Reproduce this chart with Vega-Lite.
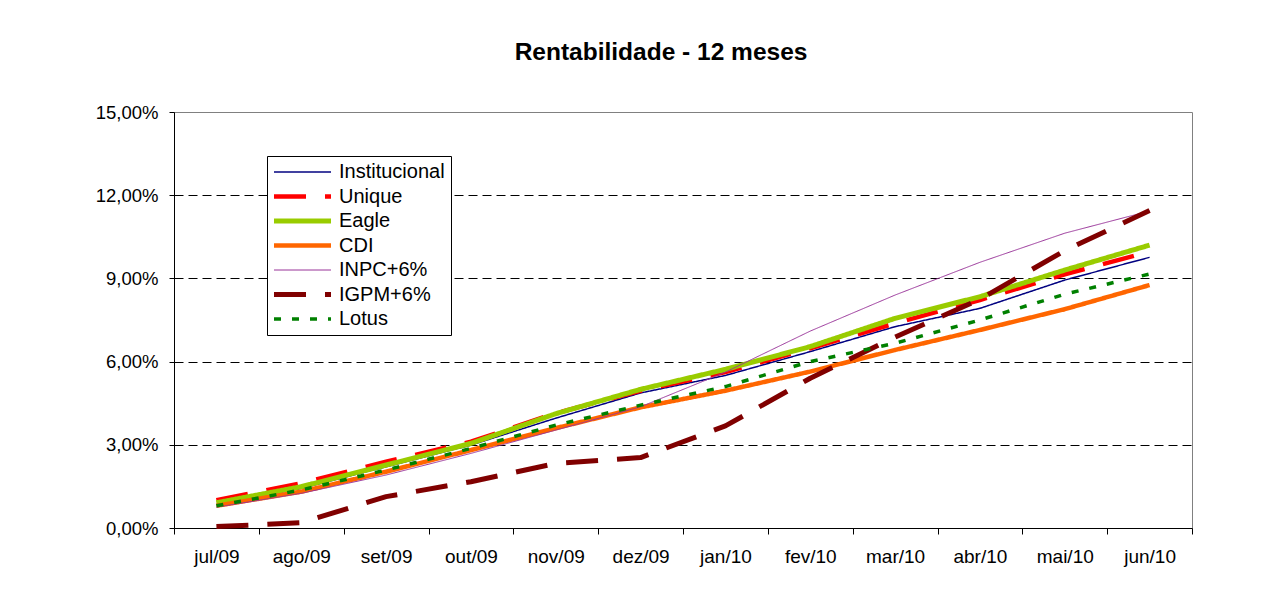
{
  "$schema": "https://vega.github.io/schema/vega-lite/v6.json",
  "width": 1018,
  "height": 416,
  "autosize": {"type": "none"},
  "padding": {"left": 174, "top": 112, "right": 83, "bottom": 86},
  "background": "white",
  "title": {"text": "Rentabilidade - 12 meses", "font": "Liberation Sans", "fontSize": 24.5, "fontWeight": "bold", "color": "black", "anchor": "middle", "frame": "group", "dx": -22, "offset": 38},
  "config": {
    "view": {"stroke": "#808080", "strokeWidth": 1},
    "font": "Liberation Sans"
  },
  "data": {"values": [
    {"mes": "jul/09", "serie": "Institucional", "valor": 0.85},
    {"mes": "ago/09", "serie": "Institucional", "valor": 1.43},
    {"mes": "set/09", "serie": "Institucional", "valor": 2.21},
    {"mes": "out/09", "serie": "Institucional", "valor": 2.99},
    {"mes": "nov/09", "serie": "Institucional", "valor": 3.96},
    {"mes": "dez/09", "serie": "Institucional", "valor": 4.87},
    {"mes": "jan/10", "serie": "Institucional", "valor": 5.5},
    {"mes": "fev/10", "serie": "Institucional", "valor": 6.36},
    {"mes": "mar/10", "serie": "Institucional", "valor": 7.26},
    {"mes": "abr/10", "serie": "Institucional", "valor": 7.92},
    {"mes": "mai/10", "serie": "Institucional", "valor": 8.94},
    {"mes": "jun/10", "serie": "Institucional", "valor": 9.76},
    {"mes": "jul/09", "serie": "Unique", "valor": 1.0},
    {"mes": "ago/09", "serie": "Unique", "valor": 1.61},
    {"mes": "set/09", "serie": "Unique", "valor": 2.39},
    {"mes": "out/09", "serie": "Unique", "valor": 3.11},
    {"mes": "nov/09", "serie": "Unique", "valor": 4.14},
    {"mes": "dez/09", "serie": "Unique", "valor": 4.95},
    {"mes": "jan/10", "serie": "Unique", "valor": 5.62},
    {"mes": "fev/10", "serie": "Unique", "valor": 6.48},
    {"mes": "mar/10", "serie": "Unique", "valor": 7.38},
    {"mes": "abr/10", "serie": "Unique", "valor": 8.22},
    {"mes": "mai/10", "serie": "Unique", "valor": 9.15},
    {"mes": "jun/10", "serie": "Unique", "valor": 9.96},
    {"mes": "jul/09", "serie": "Eagle", "valor": 0.91},
    {"mes": "ago/09", "serie": "Eagle", "valor": 1.49},
    {"mes": "set/09", "serie": "Eagle", "valor": 2.27},
    {"mes": "out/09", "serie": "Eagle", "valor": 3.05},
    {"mes": "nov/09", "serie": "Eagle", "valor": 4.12},
    {"mes": "dez/09", "serie": "Eagle", "valor": 5.0},
    {"mes": "jan/10", "serie": "Eagle", "valor": 5.72},
    {"mes": "fev/10", "serie": "Eagle", "valor": 6.54},
    {"mes": "mar/10", "serie": "Eagle", "valor": 7.56},
    {"mes": "abr/10", "serie": "Eagle", "valor": 8.34},
    {"mes": "mai/10", "serie": "Eagle", "valor": 9.3},
    {"mes": "jun/10", "serie": "Eagle", "valor": 10.2},
    {"mes": "jul/09", "serie": "CDI", "valor": 0.8},
    {"mes": "ago/09", "serie": "CDI", "valor": 1.31},
    {"mes": "set/09", "serie": "CDI", "valor": 2.03},
    {"mes": "out/09", "serie": "CDI", "valor": 2.81},
    {"mes": "nov/09", "serie": "CDI", "valor": 3.6},
    {"mes": "dez/09", "serie": "CDI", "valor": 4.35},
    {"mes": "jan/10", "serie": "CDI", "valor": 4.95},
    {"mes": "fev/10", "serie": "CDI", "valor": 5.64},
    {"mes": "mar/10", "serie": "CDI", "valor": 6.42},
    {"mes": "abr/10", "serie": "CDI", "valor": 7.14},
    {"mes": "mai/10", "serie": "CDI", "valor": 7.89},
    {"mes": "jun/10", "serie": "CDI", "valor": 8.76},
    {"mes": "jul/09", "serie": "INPC+6%", "valor": 0.75},
    {"mes": "ago/09", "serie": "INPC+6%", "valor": 1.25},
    {"mes": "set/09", "serie": "INPC+6%", "valor": 1.91},
    {"mes": "out/09", "serie": "INPC+6%", "valor": 2.69},
    {"mes": "nov/09", "serie": "INPC+6%", "valor": 3.53},
    {"mes": "dez/09", "serie": "INPC+6%", "valor": 4.37},
    {"mes": "jan/10", "serie": "INPC+6%", "valor": 5.62},
    {"mes": "fev/10", "serie": "INPC+6%", "valor": 7.1},
    {"mes": "mar/10", "serie": "INPC+6%", "valor": 8.4},
    {"mes": "abr/10", "serie": "INPC+6%", "valor": 9.58},
    {"mes": "mai/10", "serie": "INPC+6%", "valor": 10.63},
    {"mes": "jun/10", "serie": "INPC+6%", "valor": 11.43},
    {"mes": "jul/09", "serie": "IGPM+6%", "valor": 0.05},
    {"mes": "ago/09", "serie": "IGPM+6%", "valor": 0.19},
    {"mes": "set/09", "serie": "IGPM+6%", "valor": 1.13},
    {"mes": "out/09", "serie": "IGPM+6%", "valor": 1.67},
    {"mes": "nov/09", "serie": "IGPM+6%", "valor": 2.33},
    {"mes": "dez/09", "serie": "IGPM+6%", "valor": 2.54},
    {"mes": "jan/10", "serie": "IGPM+6%", "valor": 3.68},
    {"mes": "fev/10", "serie": "IGPM+6%", "valor": 5.4},
    {"mes": "mar/10", "serie": "IGPM+6%", "valor": 6.88},
    {"mes": "abr/10", "serie": "IGPM+6%", "valor": 8.25},
    {"mes": "mai/10", "serie": "IGPM+6%", "valor": 10.0},
    {"mes": "jun/10", "serie": "IGPM+6%", "valor": 11.45},
    {"mes": "jul/09", "serie": "Lotus", "valor": 0.8},
    {"mes": "ago/09", "serie": "Lotus", "valor": 1.37},
    {"mes": "set/09", "serie": "Lotus", "valor": 2.09},
    {"mes": "out/09", "serie": "Lotus", "valor": 2.87},
    {"mes": "nov/09", "serie": "Lotus", "valor": 3.71},
    {"mes": "dez/09", "serie": "Lotus", "valor": 4.43},
    {"mes": "jan/10", "serie": "Lotus", "valor": 5.1},
    {"mes": "fev/10", "serie": "Lotus", "valor": 6.0},
    {"mes": "mar/10", "serie": "Lotus", "valor": 6.66},
    {"mes": "abr/10", "serie": "Lotus", "valor": 7.5},
    {"mes": "mai/10", "serie": "Lotus", "valor": 8.43},
    {"mes": "jun/10", "serie": "Lotus", "valor": 9.16}
  ]},
  "mark": {"type": "line", "strokeCap": "butt", "strokeJoin": "round"},
  "encoding": {
    "x": {
      "field": "mes", "type": "ordinal", "bandPosition": 0.5,
      "sort": ["jul/09", "ago/09", "set/09", "out/09", "nov/09", "dez/09", "jan/10", "fev/10", "mar/10", "abr/10", "mai/10", "jun/10"],
      "scale": {"type": "band", "paddingInner": 0, "paddingOuter": 0},
      "axis": {"title": null, "labelAngle": 0, "labelFont": "Liberation Sans", "labelFontSize": 19, "labelColor": "black", "domainColor": "black", "domainWidth": 1, "tickColor": "black", "tickSize": 6, "tickBand": "extent", "labelPadding": 13, "grid": false}
    },
    "y": {
      "field": "valor", "type": "quantitative",
      "scale": {"domain": [0, 15], "nice": false, "zero": true},
      "axis": {"title": null, "values": [0, 3, 6, 9, 12, 15], "labelExpr": "replace(format(datum.value, '.2f'), '.', ',') + '%'", "labelFont": "Liberation Sans", "labelFontSize": 18.5, "labelColor": "black", "domainColor": "black", "tickColor": "black", "tickSize": 5, "labelPadding": 11, "grid": true, "gridColor": "black", "gridDash": [9, 5], "gridOpacity": {"condition": {"test": "datum.value == 0 || datum.value == 15", "value": 0}, "value": 1}}
    },
    "color": {
      "field": "serie", "type": "nominal",
      "scale": {"domain": ["Institucional", "Unique", "Eagle", "CDI", "INPC+6%", "IGPM+6%", "Lotus"], "range": ["#000080", "#FF0000", "#99CC00", "#FF6600", "#993399", "#800000", "#008000"]},
      "legend": {"title": null, "orient": "none", "legendX": 93, "legendY": 44, "strokeColor": "black", "fillColor": "white", "padding": 6, "labelFont": "Liberation Sans", "labelFontSize": 20, "labelColor": "black", "labelOffset": 46, "symbolType": "M-1.286,0H6.857", "symbolSize": 196, "rowPadding": 4.5}
    },
    "strokeDash": {
      "field": "serie", "type": "nominal",
      "scale": {"domain": ["Institucional", "Unique", "Eagle", "CDI", "INPC+6%", "IGPM+6%", "Lotus"], "range": [[1, 0], [32, 19], [1, 0], [1, 0], [1, 0], [32, 19], [7, 11]]},
      "legend": {"title": null}
    },
    "strokeWidth": {
      "field": "serie", "type": "ordinal",
      "scale": {"type": "ordinal", "domain": ["Institucional", "Unique", "Eagle", "CDI", "INPC+6%", "IGPM+6%", "Lotus"], "range": [1.5, 4.5, 5, 4.5, 1, 5, 3.5]},
      "legend": {"title": null}
    }
  }
}
